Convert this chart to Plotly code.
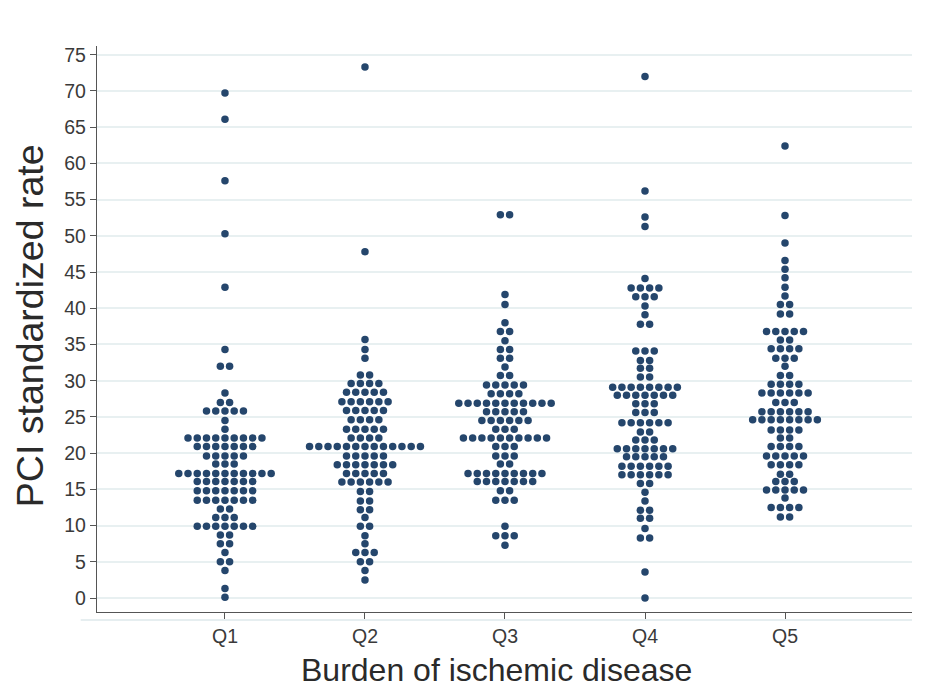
import plotly.graph_objects as go

# ---------------- data (dot rows: value of the row, number of dots) ----------------
categories = ["Q1", "Q2", "Q3", "Q4", "Q5"]

q1_values = [69.7, 66.1, 57.6, 50.3, 42.9, 34.3, 32.0, 28.3, 27.0, 25.8, 24.5, 23.3, 22.1,
             20.9, 19.6, 18.5, 17.2, 16.1, 14.8, 13.5, 12.3, 11.1, 9.9, 8.7, 7.5, 6.3, 5.0,
             3.8, 1.3, 0.1]
q1_counts = [1, 1, 1, 1, 1, 1, 2, 1, 2, 5, 1, 1, 9,
             7, 5, 3, 11, 7, 7, 7, 2, 3, 7, 2, 2, 1, 2,
             1, 1, 1]

q2_values = [73.3, 47.8, 35.7, 34.3, 33.1, 30.8, 29.6, 28.4, 27.1, 25.9, 24.6, 23.3, 22.1,
             20.9, 19.6, 18.4, 17.2, 16.0, 14.7, 13.4, 12.2, 11.1, 9.9, 8.6, 7.5, 6.3, 5.0,
             3.8, 2.5]
q2_counts = [1, 1, 1, 1, 1, 2, 4, 5, 6, 5, 4, 5, 4,
             13, 5, 7, 5, 6, 2, 2, 2, 1, 2, 1, 1, 3, 2,
             1, 1]

q3_values = [52.9, 41.9, 40.5, 38.0, 36.8, 35.5, 34.3, 33.1, 31.9, 30.7, 29.4, 28.2, 26.9,
             25.7, 24.5, 23.3, 22.1, 20.9, 19.6, 18.5, 17.2, 16.1, 14.8, 13.5, 9.9, 8.6, 7.3]
q3_counts = [2, 1, 1, 1, 2, 1, 2, 2, 1, 2, 5, 4, 11,
             5, 6, 3, 10, 3, 3, 2, 9, 7, 2, 3, 1, 3, 1]

q4_values = [72.0, 56.2, 52.6, 51.3, 44.1, 42.8, 41.6, 40.3, 39.1, 37.8, 34.1, 32.8, 31.7,
             30.5, 29.1, 28.0, 26.8, 25.6, 24.2, 22.9, 21.8, 20.6, 19.5, 18.2, 17.0, 15.8,
             14.6, 13.4, 12.1, 11.0, 9.6, 8.3, 3.6, 0.0]
q4_counts = [1, 1, 1, 1, 1, 4, 3, 1, 1, 2, 3, 2, 2,
             2, 8, 7, 3, 3, 6, 2, 3, 7, 5, 6, 6, 2,
             1, 1, 2, 2, 1, 2, 1, 1]

q5_values = [62.4, 52.8, 49.0, 46.6, 45.4, 44.2, 42.9, 41.7, 40.5, 39.2, 36.8, 35.6, 34.4,
             33.1, 32.0, 30.7, 29.5, 28.3, 27.0, 25.7, 24.6, 23.2, 22.1, 20.9, 19.6, 18.4,
             17.1, 16.1, 14.9, 13.8, 12.5, 11.2]
q5_counts = [1, 1, 1, 1, 1, 1, 1, 1, 2, 2, 5, 2, 4,
             3, 1, 2, 4, 6, 3, 6, 8, 4, 2, 4, 5, 4,
             2, 3, 5, 1, 4, 2]

y_tickvals = list(range(0, 80, 5))

x_title = "Burden of ischemic disease"
y_title = "PCI standardized rate"

# ---------------- figure ----------------
NAVY = "#25466C"
DOT_STEP = 0.066  # horizontal spacing of dots in a row (category units)

groups = [(q1_values, q1_counts), (q2_values, q2_counts), (q3_values, q3_counts),
          (q4_values, q4_counts), (q5_values, q5_counts)]

fig = go.Figure()
for gi, (vals, cnts) in enumerate(groups):
    center = gi + 1
    xs, ys = [], []
    for v, n in zip(vals, cnts):
        for i in range(n):
            xs.append(center + (i - (n - 1) / 2.0) * DOT_STEP)
            ys.append(v)
    fig.add_trace(go.Scatter(
        x=xs, y=ys, mode="markers", name=categories[gi], showlegend=False,
        marker=dict(size=7.5, color=NAVY, line=dict(width=0)),
        hoverinfo="y",
    ))

AX = "#555555"
fig.update_layout(
    width=930, height=687,
    margin=dict(l=97, r=18, t=46, b=75, autoexpand=False),
    paper_bgcolor="white", plot_bgcolor="white",
    font=dict(family="Liberation Sans, Arial, sans-serif", color="#3a3a3a"),
    xaxis=dict(
        range=[0.086, 5.907], tickvals=[1, 2, 3, 4, 5], ticktext=categories,
        showgrid=False, zeroline=False, showline=True, linecolor=AX, linewidth=1.3,
        ticks="outside", ticklen=6, tickcolor=AX, tickwidth=1.2, automargin=False,
        tickfont=dict(size=19.5, color="#3a3a3a"),
    ),
    yaxis=dict(
        range=[-1.93, 76.2], tickvals=y_tickvals,
        showgrid=True, gridcolor="#E8F0F1", gridwidth=1.8,
        zeroline=False, showline=True, linecolor=AX, linewidth=1.3,
        ticks="outside", ticklen=6, tickcolor=AX, tickwidth=1.2, automargin=False,
        tickfont=dict(size=19.5, color="#3a3a3a"),
    ),
    annotations=[
        dict(text=x_title, xref="paper", yref="paper", x=0.4896, y=-0.1025,
             xanchor="center", yanchor="middle", showarrow=False,
             font=dict(size=32, color="#2a2a2a")),
        dict(text=y_title, xref="paper", yref="paper", x=-0.0822, y=0.505,
             xanchor="center", yanchor="middle", showarrow=False, textangle=-90,
             font=dict(size=37.5, color="#2a2a2a")),
    ],
    shapes=[dict(type="line", xref="paper", yref="paper", x0=-0.02, x1=1.0,
                 y0=-0.0141, y1=-0.0141, line=dict(color="#E6EEF0", width=2), layer="below")],
)

fig.write_html("out.html")
